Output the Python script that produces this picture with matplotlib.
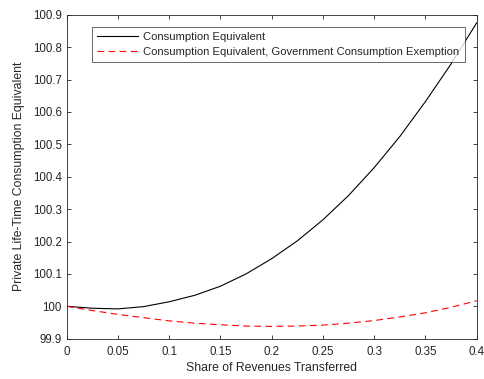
import matplotlib
matplotlib.use("Agg")
import matplotlib.pyplot as plt
import numpy as np

plt.rcParams['font.family'] = ['Liberation Sans', 'DejaVu Sans']

# share of revenues transferred
share = [0, 0.025, 0.05, 0.075, 0.1, 0.125, 0.15, 0.175, 0.2,
         0.225, 0.25, 0.275, 0.3, 0.325, 0.35, 0.375, 0.4]
cons_equiv = [100.000, 99.994, 99.992, 99.999, 100.014, 100.034, 100.062,
              100.100, 100.147, 100.202, 100.267, 100.342, 100.428,
              100.524, 100.632, 100.748, 100.875]
cons_equiv_gov = [100.000, 99.987, 99.975, 99.965, 99.955, 99.948, 99.943,
                  99.939, 99.938, 99.939, 99.942, 99.948, 99.956, 99.967,
                  99.980, 99.997, 100.017]

xticks = [0, 0.05, 0.1, 0.15, 0.2, 0.25, 0.3, 0.35, 0.4]
xticklabels = ['0', '0.05', '0.1', '0.15', '0.2', '0.25', '0.3', '0.35', '0.4']
yticks = [99.9, 100, 100.1, 100.2, 100.3, 100.4, 100.5, 100.6, 100.7, 100.8, 100.9]
yticklabels = ['99.9', '100', '100.1', '100.2', '100.3', '100.4', '100.5',
               '100.6', '100.7', '100.8', '100.9']

ax_col = '#262626'

fig = plt.figure(figsize=(4.85, 3.79), dpi=100)
ax = fig.add_axes([66.7/485, 1-338.7/379, (476.7-66.7)/485, (338.7-14.7)/379])

ax.plot(share, cons_equiv, color='black', lw=0.8, label='Consumption Equivalent')
ax.plot(share, cons_equiv_gov, color='red', lw=0.8, ls=(0, (6, 4)),
        label='Consumption Equivalent, Government Consumption Exemption')

ax.set_xlim(0, 0.4)
ax.set_ylim(99.9, 100.9)
ax.set_xticks(xticks)
ax.set_xticklabels(xticklabels)
ax.set_yticks(yticks)
ax.set_yticklabels(yticklabels)
ax.tick_params(direction='in', top=True, right=True, length=3, width=0.6,
               colors=ax_col, labelsize=8.3)
ax.tick_params(axis='x', pad=5)
for s in ax.spines.values():
    s.set_color(ax_col)
    s.set_linewidth(0.6)

ax.set_xlabel('Share of Revenues Transferred', fontsize=8.8, color=ax_col, labelpad=3)
ax.set_ylabel('Private Life-Time Consumption Equivalent', fontsize=8.8, color=ax_col, labelpad=6)

leg = ax.legend(loc='upper left', bbox_to_anchor=(25.5/410, 1-12.5/324),
                fontsize=8.1, frameon=True, fancybox=False, borderpad=0.45,
                handlelength=3.6, handletextpad=0.5, labelspacing=0.45,
                borderaxespad=0)
leg.get_frame().set_edgecolor(ax_col)
leg.get_frame().set_linewidth(0.6)
for t in leg.get_texts():
    t.set_color(ax_col)

fig.savefig('out.png', dpi=100)
